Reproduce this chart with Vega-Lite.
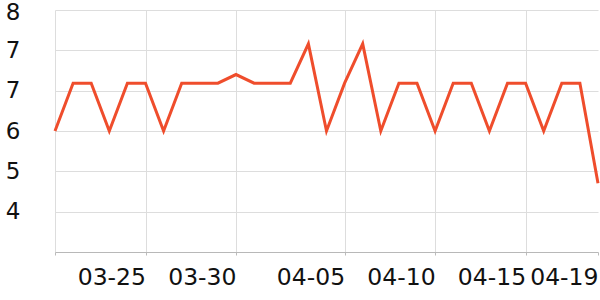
{
  "$schema": "https://vega.github.io/schema/vega-lite/v6.json",
  "width": 543,
  "height": 242,
  "autosize": "none",
  "padding": {"left": 55, "top": 10, "right": 2, "bottom": 48},
  "config": {
    "view": {"stroke": null},
    "font": "DejaVu Sans"
  },
  "data": {
    "values": [
      {"date": "2024-03-20", "value": 5.75},
      {"date": "2024-03-21", "value": 6.64},
      {"date": "2024-03-22", "value": 6.64},
      {"date": "2024-03-23", "value": 5.75},
      {"date": "2024-03-24", "value": 6.64},
      {"date": "2024-03-25", "value": 6.64},
      {"date": "2024-03-26", "value": 5.75},
      {"date": "2024-03-27", "value": 6.64},
      {"date": "2024-03-28", "value": 6.64},
      {"date": "2024-03-29", "value": 6.64},
      {"date": "2024-03-30", "value": 6.8},
      {"date": "2024-03-31", "value": 6.64},
      {"date": "2024-04-01", "value": 6.64},
      {"date": "2024-04-02", "value": 6.64},
      {"date": "2024-04-03", "value": 7.37},
      {"date": "2024-04-04", "value": 5.75},
      {"date": "2024-04-05", "value": 6.64},
      {"date": "2024-04-06", "value": 7.37},
      {"date": "2024-04-07", "value": 5.75},
      {"date": "2024-04-08", "value": 6.64},
      {"date": "2024-04-09", "value": 6.64},
      {"date": "2024-04-10", "value": 5.75},
      {"date": "2024-04-11", "value": 6.64},
      {"date": "2024-04-12", "value": 6.64},
      {"date": "2024-04-13", "value": 5.75},
      {"date": "2024-04-14", "value": 6.64},
      {"date": "2024-04-15", "value": 6.64},
      {"date": "2024-04-16", "value": 5.75},
      {"date": "2024-04-17", "value": 6.64},
      {"date": "2024-04-18", "value": 6.64},
      {"date": "2024-04-19", "value": 4.78}
    ]
  },
  "mark": {"type": "line", "color": "#ef4d2c", "strokeWidth": 3, "clip": false},
  "encoding": {
    "x": {
      "field": "date",
      "type": "temporal",
      "scale": {"type": "utc", "nice": false},
      "axis": {
        "title": null,
        "values": [
          {"year": 2024, "month": 3, "date": 20, "utc": true},
          {"year": 2024, "month": 3, "date": 25, "utc": true},
          {"year": 2024, "month": 3, "date": 30, "utc": true},
          {"year": 2024, "month": 4, "date": 5, "utc": true},
          {"year": 2024, "month": 4, "date": 10, "utc": true},
          {"year": 2024, "month": 4, "date": 15, "utc": true},
          {"year": 2024, "month": 4, "date": 19, "utc": true}
        ],
        "labelExpr": "datum.index === 0 ? '' : utcFormat(datum.value, '%m-%d')",
        "labelAlign": "right",
        "labelFontSize": 23.5,
        "labelColor": "#111",
        "labelPadding": 10,
        "labelFlush": false,
        "labelOverlap": false,
        "tickSize": 3,
        "tickColor": "#bbb",
        "domainColor": "#b8b8b8",
        "gridColor": "#dddddd",
        "gridOpacity": {"condition": {"test": "datum.value > 1713450000000", "value": 0}, "value": 1},
        "grid": true
      }
    },
    "y": {
      "field": "value",
      "type": "quantitative",
      "scale": {"domain": [3.5, 8], "nice": false, "zero": false},
      "axis": {
        "title": null,
        "values": [8, 7.25, 6.5, 5.75, 5, 4.25],
        "format": ".0f",
        "domain": false,
        "ticks": false,
        "labelFontSize": 23,
        "labelColor": "#111",
        "labelPadding": 35,
        "labelFlush": false,
        "labelOverlap": false,
        "labelOffset": {"condition": {"test": "datum.value === 8", "value": 2}, "value": 0},
        "gridColor": "#dddddd"
      }
    }
  }
}
